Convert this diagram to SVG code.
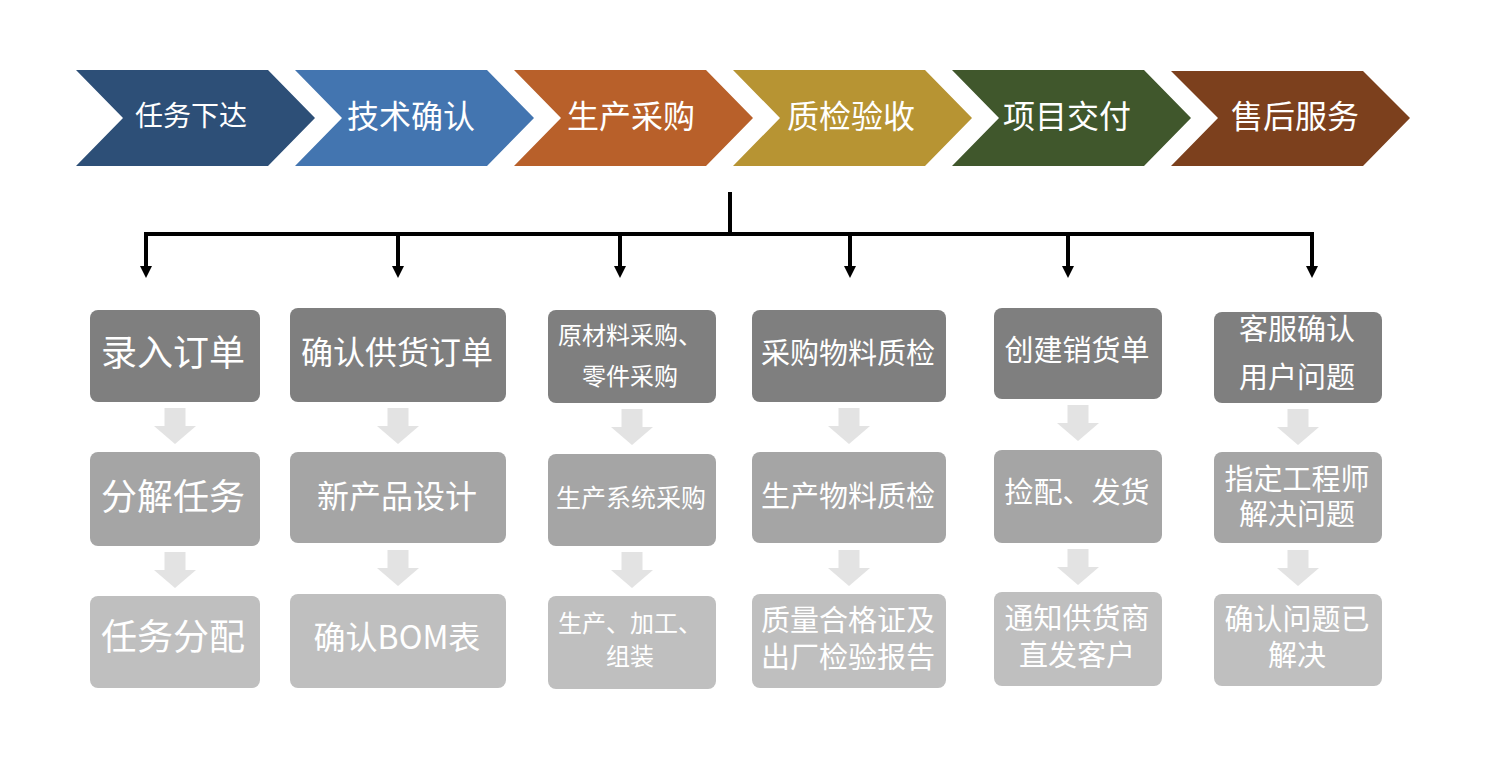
<svg xmlns="http://www.w3.org/2000/svg" xmlns:xlink="http://www.w3.org/1999/xlink" width="1506" height="772" viewBox="0 0 1506 772">
<style>
text{font-family:"Noto Sans CJK SC","Liberation Sans",sans-serif;fill:#fff;text-anchor:middle;dominant-baseline:central}
.chev{font-size:32px}
.r1{fill:#7f7f7f}.r2{fill:#a5a5a5}.r3{fill:#bfbfbf}
.conn{stroke:#000;stroke-width:4;fill:none}
.ga{fill:#e3e3e3}
</style>
<defs>
<marker id="ah" markerUnits="userSpaceOnUse" markerWidth="12" markerHeight="12" viewBox="0 0 12 12" refX="0" refY="6" orient="auto">
<path d="M0,0 L12,6 L0,12 z" fill="#000"/>
</marker>
<path id="garrow" d="M-10.5,0 H10.5 V18 H21 L0,36 L-21,18 H-10.5 z"/>
</defs>
<rect width="1506" height="772" fill="#fff"/>

<g id="stage1"><polygon points="76,70 268,70 315,118 268,166 76,166 123,118" fill="#2d4f77"/><text x="191" y="114" style="font-size:28px">任务下达</text></g>
<g id="stage2"><polygon points="295,70 487,70 534,118 487,166 295,166 342,118" fill="#4375b0"/><text class="chev" x="411" y="114">技术确认</text></g>
<g id="stage3"><polygon points="514,70 706,70 753,118 706,166 514,166 561,118" fill="#b8602a"/><text class="chev" x="631" y="114">生产采购</text></g>
<g id="stage4"><polygon points="733,70 925,70 972,118 925,166 733,166 780,118" fill="#b79433"/><text class="chev" x="851" y="114">质检验收</text></g>
<g id="stage5"><polygon points="952,70 1144,70 1191,118 1144,166 952,166 999,118" fill="#40572c"/><text class="chev" x="1067" y="114">项目交付</text></g>
<g id="stage6"><polygon points="1171,71 1363,71 1410,118 1363,166 1171,166 1218,118" fill="#7c401d"/><text class="chev" x="1295" y="114">售后服务</text></g>

<g id="connectors">
<path class="conn" d="M730,192 V234"/>
<path class="conn" d="M146,234 H1312" stroke-linecap="square"/>
<path class="conn" d="M146,232 V266" marker-end="url(#ah)"/>
<path class="conn" d="M398,232 V266" marker-end="url(#ah)"/>
<path class="conn" d="M620,232 V266" marker-end="url(#ah)"/>
<path class="conn" d="M850,232 V266" marker-end="url(#ah)"/>
<path class="conn" d="M1068,232 V266" marker-end="url(#ah)"/>
<path class="conn" d="M1312,232 V266" marker-end="url(#ah)"/>
<g class="ga">
<use xlink:href="#garrow" x="175" y="408"/><use xlink:href="#garrow" x="175" y="552"/>
<use xlink:href="#garrow" x="398" y="408"/><use xlink:href="#garrow" x="398" y="550"/>
<use xlink:href="#garrow" x="632" y="409"/><use xlink:href="#garrow" x="632" y="552"/>
<use xlink:href="#garrow" x="849" y="408"/><use xlink:href="#garrow" x="849" y="550"/>
<use xlink:href="#garrow" x="1078" y="405"/><use xlink:href="#garrow" x="1078" y="549"/>
<use xlink:href="#garrow" x="1298" y="409"/><use xlink:href="#garrow" x="1298" y="550"/>
</g>
</g>

<g id="c1r1"><rect class="r1" x="90" y="310" width="170" height="92" rx="8"/><text x="173" y="350" style="font-size:36px">录入订单</text></g>
<g id="c1r2"><rect class="r2" x="90" y="452" width="170" height="94" rx="8"/><text x="173" y="494" style="font-size:36px">分解任务</text></g>
<g id="c1r3"><rect class="r3" x="90" y="596" width="170" height="92" rx="8"/><text x="173" y="634" style="font-size:36px">任务分配</text></g>

<g id="c2r1"><rect class="r1" x="290" y="308" width="216" height="94" rx="8"/><text x="397" y="350" style="font-size:32px">确认供货订单</text></g>
<g id="c2r2"><rect class="r2" x="290" y="452" width="216" height="91" rx="8"/><text x="397" y="494" style="font-size:32px">新产品设计</text></g>
<g id="c2r3"><rect class="r3" x="290" y="594" width="216" height="94" rx="8"/><text x="397" y="635" style="font-size:32px">确认BOM表</text></g>

<g id="c3r1"><rect class="r1" x="548" y="310" width="168" height="93" rx="8"/><text x="630" y="333" style="font-size:24px">原材料采购、</text><text x="630" y="374" style="font-size:24px">零件采购</text></g>
<g id="c3r2"><rect class="r2" x="548" y="454" width="168" height="92" rx="8"/><text x="631" y="496" style="font-size:25px">生产系统采购</text></g>
<g id="c3r3"><rect class="r3" x="548" y="596" width="168" height="93" rx="8"/><text x="630" y="621" style="font-size:24px">生产、加工、</text><text x="630" y="654" style="font-size:24px">组装</text></g>

<g id="c4r1"><rect class="r1" x="752" y="310" width="194" height="92" rx="8"/><text x="848" y="351" style="font-size:29px">采购物料质检</text></g>
<g id="c4r2"><rect class="r2" x="752" y="452" width="194" height="91" rx="8"/><text x="848" y="494" style="font-size:29px">生产物料质检</text></g>
<g id="c4r3"><rect class="r3" x="752" y="594" width="194" height="94" rx="8"/><text x="848" y="618" style="font-size:29px">质量合格证及</text><text x="848" y="655" style="font-size:29px">出厂检验报告</text></g>

<g id="c5r1"><rect class="r1" x="994" y="308" width="168" height="91" rx="8"/><text x="1077" y="348" style="font-size:29px">创建销货单</text></g>
<g id="c5r2"><rect class="r2" x="994" y="450" width="168" height="93" rx="8"/><text x="1077" y="490" style="font-size:29px">捡配、发货</text></g>
<g id="c5r3"><rect class="r3" x="994" y="592" width="168" height="94" rx="8"/><text x="1077" y="616" style="font-size:29px">通知供货商</text><text x="1077" y="653" style="font-size:29px">直发客户</text></g>

<g id="c6r1"><rect class="r1" x="1214" y="312" width="168" height="91" rx="8"/><text x="1297" y="327" style="font-size:29px">客服确认</text><text x="1297" y="375" style="font-size:29px">用户问题</text></g>
<g id="c6r2"><rect class="r2" x="1214" y="452" width="168" height="91" rx="8"/><text x="1297" y="477" style="font-size:29px">指定工程师</text><text x="1297" y="512" style="font-size:29px">解决问题</text></g>
<g id="c6r3"><rect class="r3" x="1214" y="594" width="168" height="92" rx="8"/><text x="1297" y="617" style="font-size:29px">确认问题已</text><text x="1297" y="653" style="font-size:29px">解决</text></g>
</svg>
